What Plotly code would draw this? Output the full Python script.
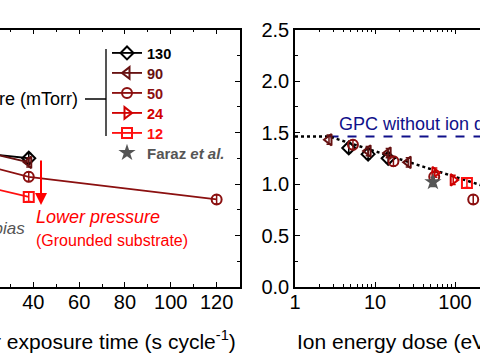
import plotly.graph_objects as go

W, H = 480, 360


def px(x):
    return x / W


def py(y):
    return 1 - y / H


FONT = "Arial, Liberation Sans, sans-serif"

# ---------------- data ----------------
labels = ["130", "90", "50", "24", "12"]
colors = ["#000000", "#661111", "#8b1010", "#d00000", "#ff1010"]
symbols = ["diamond-open", "triangle-left-open", "circle-open", "triangle-right-open", "square-open"]

time_130 = [12, 21, 38]
dose_130 = [4.7, 8.2, 14.6]
gpc_130 = [1.35, 1.29, 1.25]

time_90 = [4, 12, 21, 38]
dose_90 = [2.66, 8.2, 14.6, 26]
gpc_90 = [1.43, 1.32, 1.30, 1.21]

time_50 = [3.7, 12, 38, 120]
dose_50 = [5.3, 17, 55, 169]
gpc_50 = [1.38, 1.22, 1.07, 0.85]

time_24 = [12, 20]
dose_24 = [56, 95]
gpc_24 = [1.11, 1.04]

time_12 = [12, 38]
dose_12 = [141, 447]
gpc_12 = [1.01, 0.875]

err = 0.045

faraz_dose = [53]
faraz_gpc = [1.02]

fit_dose = [1, 2.7, 1000]
fit_gpc = [1.46, 1.46, 0.82]

nodose_dose = [2.7, 1000]
nodose_gpc = [1.46, 1.46]

times = [time_130, time_90, time_50, time_24, time_12]
doses = [dose_130, dose_90, dose_50, dose_24, dose_12]
gpcs = [gpc_130, gpc_90, gpc_50, gpc_24, gpc_12]

legend_ids = ["legend", "legend2", "legend3", "legend4", "legend5", "legend6"]
legend_rows = [53, 73, 93, 113, 133, 153]

fig = go.Figure()

# right-plot reference lines
fig.add_trace(go.Scatter(x=nodose_dose, y=nodose_gpc, mode="lines", xaxis="x2", yaxis="y2",
                         line=dict(color="#10108a", width=2, dash="dash"), showlegend=False))
fig.add_trace(go.Scatter(x=fit_dose, y=fit_gpc, mode="lines", xaxis="x2", yaxis="y2",
                         line=dict(color="#000000", width=2.5, dash="dot"), showlegend=False))

for i, (lab, c, s, t, d, g) in enumerate(zip(labels, colors, symbols, times, doses, gpcs)):
    e = dict(type="constant", value=err, color=c, thickness=1.5, width=2.5)
    fig.add_trace(go.Scatter(
        x=t, y=g, mode="lines+markers", xaxis="x", yaxis="y",
        name=f"<span style='color:{c}'><b>{lab}</b></span>", legend=legend_ids[i],
        line=dict(color=c, width=1.8),
        marker=dict(symbol=s, size=10, color=c, line=dict(width=2, color=c)),
        error_y=e,
    ))
    fig.add_trace(go.Scatter(
        x=d, y=g, mode="markers", xaxis="x2", yaxis="y2", showlegend=False,
        marker=dict(symbol=s, size=10, color=c, line=dict(width=2, color=c)),
        error_y=e,
    ))

fig.add_trace(go.Scatter(
    x=faraz_dose, y=faraz_gpc, mode="markers", xaxis="x2", yaxis="y2", legend=legend_ids[5],
    name="<span style='color:#555555'><b>Faraz <i>et al.</i></b></span>",
    marker=dict(symbol="star", size=13, color="#555555"),
    error_y=dict(type="constant", value=err, color="#555555", thickness=1.5, width=2.5),
))

ydom = [py(287), py(29.5)]
axis_common = dict(showline=True, linecolor="black", linewidth=1.6, showgrid=False, zeroline=False,
                   ticks="inside", tickcolor="black", tickwidth=1.3, ticklen=5, automargin=False,
                   tickfont=dict(family=FONT, size=20, color="black"))

layout_legends = {}
for lid, row in zip(legend_ids, legend_rows):
    layout_legends[lid] = dict(x=px(107), y=py(row), xanchor="left", yanchor="middle",
                               bgcolor="rgba(0,0,0,0)", borderwidth=0,
                               font=dict(family=FONT, size=15 if lid == "legend6" else 14.5))

fig.update_layout(
    width=W, height=H, margin=dict(l=0, r=0, t=0, b=0, autoexpand=False),
    paper_bgcolor="white", plot_bgcolor="white",
    font=dict(family=FONT, color="black"),
    xaxis=dict(domain=[0, px(240)], range=[25.45, 130.2], anchor="y", mirror="ticks",
               tickvals=[40, 60, 80, 100, 120],
               minor=dict(ticks="inside", ticklen=3, tickcolor="black", dtick=10, tick0=0),
               ticklabelstandoff=-4, **axis_common),
    yaxis=dict(domain=ydom, range=[0, 2.5], anchor="x", side="right", showticklabels=False,
               dtick=0.5, minor=dict(ticks="inside", ticklen=3, tickcolor="black", dtick=0.25),
               **axis_common),
    xaxis2=dict(domain=[px(295), 1], type="log", range=[0, 2.3125], anchor="y2", mirror="ticks",
                tickvals=[1, 10, 100, 1000], ticktext=["1", "10", "100", "1000"],
                minor=dict(ticks="inside", ticklen=3, tickcolor="black", dtick="D1"),
                ticklabelstandoff=-4, **axis_common),
    yaxis2=dict(domain=ydom, range=[0, 2.5], anchor="x2", dtick=0.5, tickformat=".1f",
                minor=dict(ticks="inside", ticklen=3, tickcolor="black", dtick=0.25),
                ticklabelstandoff=0, **axis_common),
    **layout_legends,
)

ann = []
ann.append(dict(x=px(80), y=py(99), xref="paper", yref="paper", xanchor="right", yanchor="middle",
                text="Pressure (mTorr)", showarrow=False, font=dict(size=18, color="black")))
ann.append(dict(x=px(27), y=py(228), xref="paper", yref="paper", xanchor="right", yanchor="middle",
                text="<i>With bias</i>", showarrow=False, font=dict(size=17, color="#555555")))
ann.append(dict(x=px(34), y=py(217), xref="paper", yref="paper", xanchor="left", yanchor="middle",
                text="<i>Lower pressure</i>", showarrow=False, font=dict(size=18, color="#ff0000")))
ann.append(dict(x=px(34), y=py(240), xref="paper", yref="paper", xanchor="left", yanchor="middle",
                text="(Grounded substrate)", showarrow=False, font=dict(size=16, color="#ff0000")))
ann.append(dict(x=px(41), y=py(205), ax=0, ay=-46, xref="paper", yref="paper",
                axref="pixel", ayref="pixel", text="", showarrow=True, arrowhead=2,
                arrowsize=1.2, arrowwidth=2, arrowcolor="#ff0000"))
ann.append(dict(x=px(337), y=py(124), xref="paper", yref="paper", xanchor="left", yanchor="middle",
                text="GPC without ion dose", showarrow=False, font=dict(size=18, color="#10108a")))
ann.append(dict(x=px(238), y=py(340), xref="paper", yref="paper", xanchor="right", yanchor="middle",
                text="Precursor exposure time (s cycle<sup>-1</sup>)", showarrow=False,
                font=dict(size=21, color="black")))
ann.append(dict(x=px(295), y=py(340), xref="paper", yref="paper", xanchor="left", yanchor="middle",
                text="Ion energy dose (eV nm<sup>-2</sup>)", showarrow=False,
                font=dict(size=21, color="black")))
fig.update_layout(annotations=ann)

fig.add_shape(type="line", xref="paper", yref="paper", x0=px(106), x1=px(106), y0=py(49), y1=py(136),
              line=dict(color="#555555", width=2))
fig.add_shape(type="line", xref="paper", yref="paper", x0=px(85), x1=px(106), y0=py(99), y1=py(99),
              line=dict(color="black", width=1.5))

fig.write_html("out.html", config={"displayModeBar": False},
               post_script="document.body.style.margin='0px';")
